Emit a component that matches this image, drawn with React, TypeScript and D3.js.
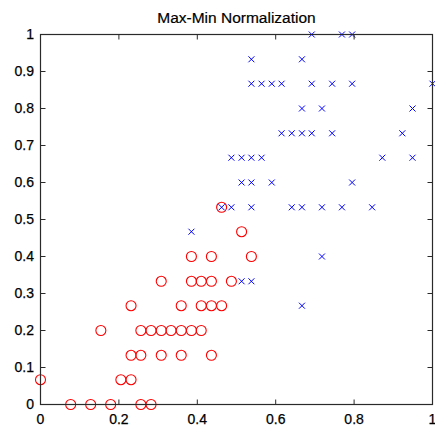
import React from "react";
import * as d3 from "d3";

// Class 1 (red circles)
const class1X = [
  0.077, 0.128, 0.179, 0.256, 0.282,
  0, 0.205, 0.231,
  0.231, 0.256, 0.308, 0.359, 0.436,
  0.154, 0.256, 0.282, 0.308, 0.333, 0.359, 0.385, 0.41,
  0.231, 0.359, 0.41, 0.436, 0.462,
  0.308, 0.385, 0.41, 0.436, 0.487,
  0.385, 0.436, 0.538,
  0.513,
  0.462,
];
const class1Y = [
  0, 0, 0, 0, 0,
  0.067, 0.067, 0.067,
  0.133, 0.133, 0.133, 0.133, 0.133,
  0.2, 0.2, 0.2, 0.2, 0.2, 0.2, 0.2, 0.2,
  0.267, 0.267, 0.267, 0.267, 0.267,
  0.333, 0.333, 0.333, 0.333, 0.333,
  0.4, 0.4, 0.4,
  0.467,
  0.533,
];

// Class 2 (blue crosses)
const class2X = [
  0.692, 0.769, 0.795,
  0.538, 0.667,
  0.538, 0.564, 0.59, 0.615, 0.692, 0.744, 0.795, 1,
  0.667, 0.718, 0.949,
  0.615, 0.641, 0.667, 0.692, 0.744, 0.923,
  0.487, 0.513, 0.538, 0.564, 0.872, 0.949,
  0.513, 0.538, 0.59, 0.795,
  0.462, 0.487, 0.538, 0.641, 0.667, 0.718, 0.769, 0.846,
  0.385,
  0.718,
  0.513, 0.538,
  0.667,
];
const class2Y = [
  1, 1, 1,
  0.933, 0.933,
  0.867, 0.867, 0.867, 0.867, 0.867, 0.867, 0.867, 0.867,
  0.8, 0.8, 0.8,
  0.733, 0.733, 0.733, 0.733, 0.733, 0.733,
  0.667, 0.667, 0.667, 0.667, 0.667, 0.667,
  0.6, 0.6, 0.6, 0.6,
  0.533, 0.533, 0.533, 0.533, 0.533, 0.533, 0.533, 0.533,
  0.467,
  0.4,
  0.333, 0.333,
  0.267,
];

const xTicks = [0, 0.2, 0.4, 0.6, 0.8, 1];
const yTicks = [0, 0.1, 0.2, 0.3, 0.4, 0.5, 0.6, 0.7, 0.8, 0.9, 1];
const title = "Max-Min Normalization";

const W = 435;
const H = 426;
const left = 40.5;
const right = 432.5;
const top = 34.5;
const bottom = 404.5;
const font = "'Liberation Sans', Arial, sans-serif";
const axisColor = "#2a2a2a";

export default function App() {
  const x = d3.scaleLinear().domain([0, 1]).range([left, right]);
  const y = d3.scaleLinear().domain([0, 1]).range([bottom, top]);
  const tl = 5;
  const fmt = (v: number) => d3.format("~g")(v);

  return (
    <svg
      width={W}
      height={H}
      style={{ position: "absolute", left: 0, top: 0, background: "#fff" }}
    >
      <text
        x={(left + right) / 2}
        y={23}
        textAnchor="middle"
        fontFamily={font}
        fontSize={15.5}
        fill="#000"
        stroke="#000"
        strokeWidth={0.2}
      >
        {title}
      </text>

      {/* markers */}
      {class1X.map((v, i) => (
        <circle
          key={"c" + i}
          cx={x(v)}
          cy={y(class1Y[i])}
          r={5}
          fill="none"
          stroke="#ff0000"
          strokeWidth={1.1}
        />
      ))}
      {class2X.map((v, i) => {
        const cx = x(v);
        const cy = y(class2Y[i]);
        const s = 3;
        return (
          <path
            key={"x" + i}
            d={`M${cx - s},${cy - s}L${cx + s},${cy + s}M${cx - s},${cy + s}L${cx + s},${cy - s}`}
            stroke="#0000ff"
            strokeWidth={1}
            fill="none"
          />
        );
      })}

      {/* box */}
      <rect
        x={left}
        y={top}
        width={right - left}
        height={bottom - top}
        fill="none"
        stroke={axisColor}
        strokeWidth={1.2}
      />

      {/* x ticks (inward, bottom and top) */}
      {xTicks.map((t) => (
        <g key={"xt" + t}>
          <line x1={x(t)} x2={x(t)} y1={bottom} y2={bottom - tl} stroke={axisColor} />
          <line x1={x(t)} x2={x(t)} y1={top} y2={top + tl} stroke={axisColor} />
          <text
            x={x(t)}
            y={424}
            textAnchor="middle"
            fontFamily={font}
            fontSize={14}
            fill="#000"
            stroke="#000"
            strokeWidth={0.25}
          >
            {fmt(t)}
          </text>
        </g>
      ))}

      {/* y ticks (inward, left and right) */}
      {yTicks.map((t) => (
        <g key={"yt" + t}>
          <line x1={left} x2={left + tl} y1={y(t)} y2={y(t)} stroke={axisColor} />
          <line x1={right} x2={right - tl} y1={y(t)} y2={y(t)} stroke={axisColor} />
          <text
            x={34}
            y={y(t)}
            dy="0.35em"
            textAnchor="end"
            fontFamily={font}
            fontSize={14}
            fill="#000"
            stroke="#000"
            strokeWidth={0.25}
          >
            {fmt(t)}
          </text>
        </g>
      ))}
    </svg>
  );
}
